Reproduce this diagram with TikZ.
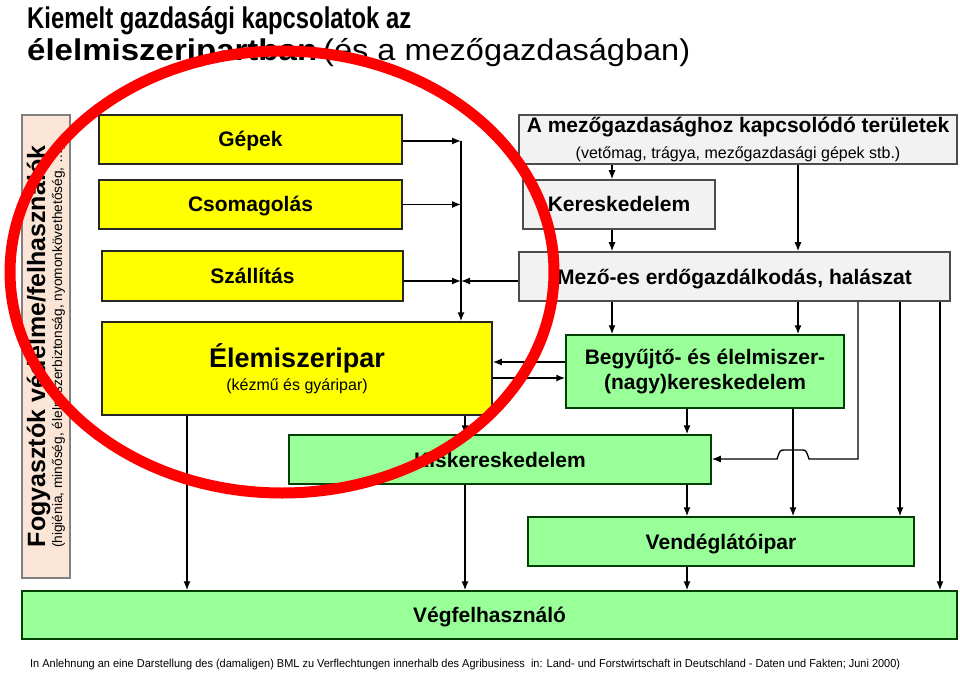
\documentclass[tikz,border=0pt]{standalone}
\usepackage{fontspec}
\setmainfont{Liberation Sans}
\usepackage{graphicx}
\usetikzlibrary{arrows.meta}

\definecolor{boxyellow}{RGB}{255,255,0}
\definecolor{boxgreen}{RGB}{153,255,153}
\definecolor{boxgray}{RGB}{242,242,242}
\definecolor{boxpeach}{RGB}{251,229,214}

\begin{document}
\begin{tikzpicture}[x=1pt,
					y=-1pt,
					>={Latex[length=9pt,width=7pt]},
					box/.style={draw,line width=1.5pt,inner sep=0pt,align=center,
						font=\fontsize{21}{25}\selectfont\bfseries},
					one line/.style={text height=15pt,text depth=0pt},
					yellow node/.style={box,fill=boxyellow,draw=black!85},
					green node/.style={box,fill=boxgreen,draw=black!75!green},
					gray node/.style={box,fill=boxgray,draw=black!70},
					link/.style={->,line width=1.3pt}]

  \useasboundingbox (0,0) rectangle (960,676);

  % title
  \node[anchor=base west,inner sep=0pt,font=\fontsize{30}{33}\selectfont\bfseries] (title1) at (27,29)
    {\resizebox{384pt}{\height}{Kiemelt gazdasági kapcsolatok az}};
  \node[anchor=base west,inner sep=0pt,font=\fontsize{30}{33}\selectfont] (title2) at (27,61)
    {\resizebox{290pt}{\height}{\bfseries élelmiszeripartban}\hspace{6pt}\resizebox{367pt}{\height}{(és a mezőgazdaságban)}};

  % left column
  \node[box,fill=boxpeach,draw=black!50,rotate=90,minimum width=463pt,minimum height=48pt,
        font=\fontsize{25}{17}\selectfont\bfseries] (fogy) at (46,346.5)
    {Fogyasztók védelme/felhasználók\\
     {\fontsize{13.7}{17}\selectfont\mdseries (higiénia, minőség, élelmiszerbiztonság, nyomonkövethetőség, …)}};
  \node[yellow node,one line,minimum width=303pt,minimum height=49pt] (gep) at (250.5,139.5) {Gépek};
  \node[yellow node,one line,minimum width=303pt,minimum height=49pt] (csom) at (250.5,204.5) {Csomagolás};
  \node[yellow node,one line,minimum width=301pt,minimum height=50pt] (szal) at (252.5,276) {Szállítás};
  \node[yellow node,minimum width=390pt,minimum height=93pt,
        font=\fontsize{27}{23}\selectfont\bfseries] (elem) at (297,368.5)
    {Élemiszeripar\\{\fontsize{16}{19}\selectfont\mdseries (kézmű és gyáripar)}};

  % right column
  \node[gray node,minimum width=438pt,minimum height=49pt] (agri) at (738,139.5)
    {A mezőgazdasághoz kapcsolódó területek\\[1pt]
     {\fontsize{16}{19}\selectfont\mdseries (vetőmag, trágya, mezőgazdasági gépek stb.)}};
  \node[gray node,one line,minimum width=192pt,minimum height=49pt] (kere) at (619,204.5) {Kereskedelem};
  \node[gray node,one line,minimum width=431pt,minimum height=49pt] (mezo) at (734.5,276.5)
    {Mező-es erdőgazdálkodás, halászat};
  \node[green node,minimum width=278pt,minimum height=73pt] (begy) at (705,371.5)
    {Begyűjtő- és élelmiszer-\\(nagy)kereskedelem};
  \node[green node,one line,minimum width=422pt,minimum height=49pt] (kisk) at (500,459.5) {Kiskereskedelem};
  \node[green node,one line,minimum width=386pt,minimum height=49pt] (vend) at (721,541.5) {Vendéglátóipar};
  \node[green node,one line,minimum width=935pt,minimum height=48pt] (vegf) at (489.5,615) {Végfelhasználó};

  % footnote
  \node[anchor=base west,inner sep=0pt,font=\fontsize{11.5}{14}\selectfont] (note) at (30,667)
    {\resizebox{870pt}{\height}{In Anlehnung an eine Darstellung des (damaligen) BML zu Verflechtungen innerhalb des Agribusiness\ \ in: Land- und Forstwirtschaft in Deutschland - Daten und Fakten; Juni 2000)}};

  % helper points
  \coordinate (bus) at (461,141);
  \coordinate (j) at (461,281);
  \coordinate (r1) at (0,362);
  \coordinate (r2) at (0,378);
  \coordinate (hop) at (793,459);
  \coordinate (c1) at (612,0);
  \coordinate (c2) at (798,0);
  \coordinate (c3) at (858,0);
  \coordinate (c4) at (900,0);
  \coordinate (c5) at (940,0);
  \coordinate (c6) at (465,0);
  \coordinate (c7) at (187,0);
  \coordinate (c8) at (687,0);

  % connectors
  \draw[link] (gep.east |- bus) -- (bus);
  \draw[link] (csom.east) -- (csom.east -| bus);
  \draw[link] (szal.east |- j) -- (j);
  \draw[link] (mezo.west |- j) -- (j);
  \draw[link] (bus) -- (bus |- elem.north);

  \draw[link] (agri.south -| c1) -- (kere.north -| c1);
  \draw[link] (kere.south -| c1) -- (mezo.north -| c1);
  \draw[link] (agri.south -| c2) -- (mezo.north -| c2);
  \draw[link] (mezo.south -| c1) -- (begy.north -| c1);
  \draw[link] (mezo.south -| c2) -- (begy.north -| c2);

  \draw[link] (begy.west |- r1) -- (elem.east |- r1);
  \draw[link] (elem.east |- r2) -- (begy.west |- r2);

  \draw[link] (elem.south -| c6) -- (kisk.north -| c6);
  \draw[link] (elem.south -| c7) -- (vegf.north -| c7);
  \draw[link] (kisk.south -| c6) -- (vegf.north -| c6);
  \draw[link] (begy.south -| c8) -- (kisk.north -| c8);
  \draw[link] (begy.south -| hop) -- (vend.north -| hop);
  \draw[link] (kisk.south -| c8) -- (vend.north -| c8);
  \draw[link] (vend.south -| c8) -- (vegf.north -| c8);

  \draw[link] (mezo.south -| c3) |- ([xshift=16pt]hop)
    .. controls ([xshift=13pt,yshift=9pt]hop) .. ([xshift=8pt,yshift=9pt]hop)
    -- ([xshift=-8pt,yshift=9pt]hop)
    .. controls ([xshift=-13pt,yshift=9pt]hop) .. ([xshift=-16pt]hop)
    -- (kisk.east |- hop);
  \draw[link] (mezo.south -| c4) -- (vend.north -| c4);
  \draw[link] (mezo.south -| c5) -- (vegf.north -| c5);

  % red mark
  \draw[red,line width=11pt] (282,272) ellipse [x radius=272,y radius=221];
\end{tikzpicture}
\end{document}
